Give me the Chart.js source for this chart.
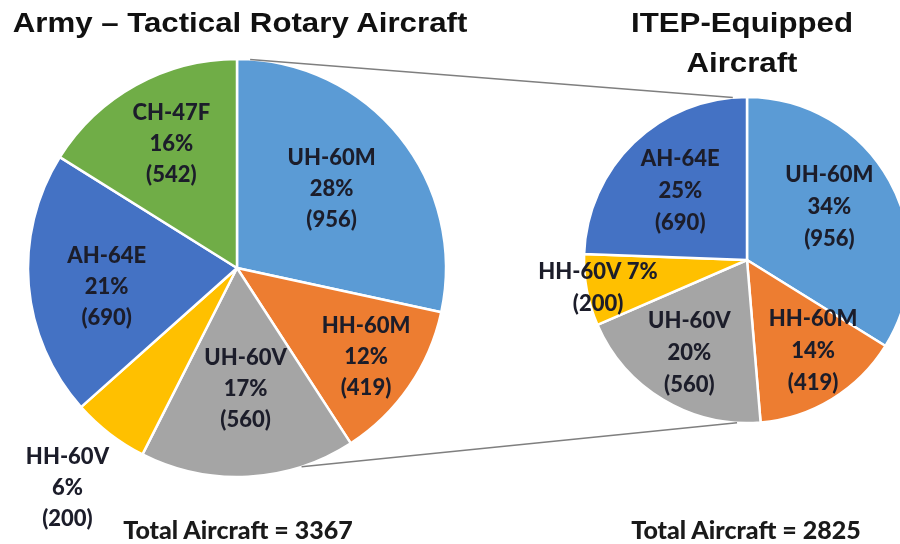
<!DOCTYPE html>
<html><head><meta charset="utf-8">
<script src="https://cdn.jsdelivr.net/npm/chart.js@4"></script>
<style>
html,body{margin:0;padding:0;background:#fff;width:900px;height:544px;overflow:hidden;}
#wrap{position:relative;width:900px;height:544px;}
#wrap canvas{position:absolute;left:0;top:0;}
.t{position:absolute;font-family:"Liberation Sans",Arial,sans-serif;font-weight:bold;font-size:28px;color:#111;white-space:nowrap;transform:translateX(-50%) scaleX(1.115);line-height:40px;text-align:center;}
.tot{position:absolute;font-family:Lato,"Open Sans",sans-serif;font-weight:900;font-size:25px;line-height:30px;color:#1a1a1a;white-space:nowrap;transform:translateX(-50%);}
</style></head>
<body>
<div id="wrap">
  <canvas id="left" width="900" height="544"></canvas>
  <canvas id="right" width="900" height="544"></canvas>
  <div class="t" style="left:240px;top:3px;">Army – Tactical Rotary Aircraft</div>
  <div class="t" style="left:742px;top:3px;">ITEP-Equipped<br>Aircraft</div>
  <div class="tot" id="totL" style="left:238px;top:514px;"></div>
  <div class="tot" id="totR" style="left:746px;top:514px;"></div>
</div>
<script>
// ---- data ----
const armyCategories = ['UH-60M','HH-60M','UH-60V','HH-60V','AH-64E','CH-47F'];
const armyValues     = [956, 419, 560, 200, 690, 542];
const armyPercents   = [28, 12, 17, 6, 21, 16];
const itepCategories = ['UH-60M','HH-60M','UH-60V','HH-60V','AH-64E'];
const itepValues     = [956, 419, 560, 200, 690];
const itepPercents   = [34, 14, 20, 7, 25];

// ---- styles ----
const colorMap = {'UH-60M':'#5B9BD5','HH-60M':'#ED7D31','UH-60V':'#A5A5A5','HH-60V':'#FFC000','AH-64E':'#4472C4','CH-47F':'#70AD47'};
const armyLabelRadius = [0.59, 0.75, 0.58, 1.33, 0.63, 0.67];
const armyLabelTurn   = [-1, 0, -1, 0, -3.2, 1];      // degrees
const itepLabelRadius = [0.60, 0.69, 0.67, 0.93, 0.59];
const itepLabelTurn   = [-3.5, -4.5, 1, 0, 0];
const itepInline = ['HH-60V'];   // name and percent on one line
const labelFont = '900 22px Lato, "Open Sans", sans-serif';
const labelColor = '#1c1d2a';

const sum = a => a.reduce((s,v)=>s+v,0);
document.getElementById('totL').textContent = 'Total Aircraft = ' + sum(armyValues);
document.getElementById('totR').textContent = 'Total Aircraft = ' + sum(itepValues);

function labelPlugin(cats, pcts, vals, radii, turns, inline, lineH){
  return {
    id:'sliceLabels',
    afterDatasetsDraw(chart){
      const ctx = chart.ctx;
      const arcs = chart.getDatasetMeta(0).data;
      ctx.save();
      ctx.font = labelFont;
      ctx.fillStyle = labelColor;
      ctx.textAlign = 'center';
      ctx.textBaseline = 'middle';
      arcs.forEach((arc,i)=>{
        const p = arc.getProps(['x','y','startAngle','endAngle','outerRadius'], true);
        const mid = (p.startAngle + p.endAngle)/2 + turns[i]*Math.PI/180;
        const r = p.outerRadius * radii[i];
        const cx = p.x + Math.cos(mid)*r, cy = p.y + Math.sin(mid)*r;
        const lines = inline.includes(cats[i])
          ? [cats[i] + ' ' + pcts[i] + '%', '(' + vals[i] + ')']
          : [cats[i], pcts[i] + '%', '(' + vals[i] + ')'];
        const y0 = cy - (lines.length-1)*lineH/2;
        lines.forEach((l,k)=>ctx.fillText(l, cx, y0 + k*lineH));
      });
      ctx.restore();
    }
  };
}

function pieConfig(cats, vals, pad, radius, plugins){
  return {
    type:'pie',
    data:{labels:cats, datasets:[{data:vals, backgroundColor:cats.map(c=>colorMap[c]), borderColor:'#ffffff', borderWidth:2.5}]},
    options:{
      responsive:false, animation:false, devicePixelRatio:1,
      radius: radius,
      layout:{padding:pad},
      plugins:{legend:{display:false}, tooltip:{enabled:false}, title:{display:false}}
    },
    plugins:plugins
  };
}

const leftChart = new Chart(document.getElementById('left'),
  pieConfig(armyCategories, armyValues, {left:0,right:426,top:0,bottom:8}, 209,
    [labelPlugin(armyCategories, armyPercents, armyValues, armyLabelRadius, armyLabelTurn, [], 31)]));

// connector lines: angle (deg, clockwise from top) on left pie -> angle on right pie
const connectors = [[3.6, 355], [162, 183.5]];
const connectorPlugin = {
  id:'connectors',
  afterDraw(chart){
    const a = leftChart.getDatasetMeta(0).data[0];
    const b = chart.getDatasetMeta(0).data[0];
    const ctx = chart.ctx;
    ctx.save();
    ctx.strokeStyle = '#7f7f7f';
    ctx.lineWidth = 1.5;
    connectors.forEach(([da,db])=>{
      const ra = da*Math.PI/180, rb = db*Math.PI/180;
      ctx.beginPath();
      ctx.moveTo(a.x + Math.sin(ra)*a.outerRadius, a.y - Math.cos(ra)*a.outerRadius);
      ctx.lineTo(b.x + Math.sin(rb)*b.outerRadius, b.y - Math.cos(rb)*b.outerRadius);
      ctx.stroke();
    });
    ctx.restore();
  }
};

const rightChart = new Chart(document.getElementById('right'),
  pieConfig(itepCategories, itepValues, {left:594,right:0,top:0,bottom:24}, 163,
    [labelPlugin(itepCategories, itepPercents, itepValues, itepLabelRadius, itepLabelTurn, itepInline, 32), connectorPlugin]));
</script>
</body></html>
